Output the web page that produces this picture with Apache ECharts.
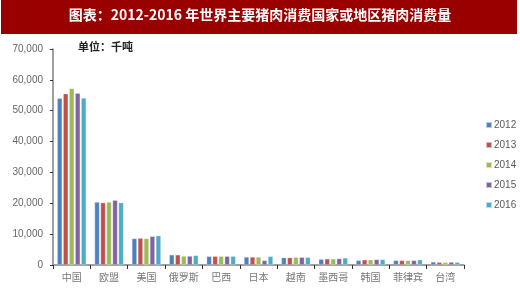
<!DOCTYPE html>
<html><head><meta charset="utf-8">
<script src="https://cdn.jsdelivr.net/npm/echarts@6/dist/echarts.min.js"></script>
<style>html,body{margin:0;padding:0;background:#fff}#c{width:520px;height:291px}</style>
</head><body><div id="c"></div>
<script>
var categories = ['中国','欧盟','美国','俄罗斯','巴西','日本','越南','墨西哥','韩国','菲律宾','台湾'];
var years = ['2012','2013','2014','2015','2016'];
var v2012 = [54000, 20400, 8600, 3300, 2800, 2600, 2400, 1900, 1500, 1500, 1000];
var v2013 = [55500, 20200, 8700, 3300, 2850, 2600, 2400, 2000, 1700, 1500, 900];
var v2014 = [57200, 20400, 8600, 2900, 2850, 2600, 2500, 2000, 1700, 1500, 850];
var v2015 = [55700, 21000, 9300, 2900, 2850, 1500, 2500, 2100, 1800, 1500, 950];
var v2016 = [54100, 20200, 9500, 3100, 2850, 2800, 2500, 2300, 1800, 1700, 900];
var yTicks = [0, 10000, 20000, 30000, 40000, 50000, 60000, 70000];
var colors = ['#4F81BD','#C0504D','#9BBB59','#8064A2','#4BACC6'];
var allValues = [v2012, v2013, v2014, v2015, v2016];

var chart = echarts.init(document.getElementById('c'));
var series = years.map(function(y, i){
  return {
    name: y, type: 'bar', data: allValues[i], barWidth: 5, barGap: '20%',
    itemStyle: {color: colors[i], borderColor: 'rgba(255,255,255,0.6)', borderWidth: 0.5}
  };
});
chart.setOption({
  animation: false,
  graphic: [
    {type: 'rect', shape: {x: 1, y: 0, width: 516, height: 34}, style: {fill: '#990000'}},
    {type: 'text', left: 'center', top: 8, style: {text: '图表：2012-2016 年世界主要猪肉消费国家或地区猪肉消费量', fill: '#fff', font: 'bold 14px "Noto Sans CJK SC", sans-serif'}},
    {type: 'text', left: 78, top: 41, style: {text: '单位：千吨', fill: '#222', font: 'bold 11px "Noto Sans CJK SC", sans-serif'}}
  ],
  grid: {left: 53, top: 49, right: 56, bottom: 26},
  legend: {
    orient: 'vertical', left: 480, top: 115, itemWidth: 6, itemHeight: 6, itemGap: 10,
    icon: 'rect', data: years,
    textStyle: {fontSize: 10, color: '#595959', fontFamily: 'Liberation Sans', padding: [0,0,0,-3]}
  },
  xAxis: {
    type: 'category', data: categories,
    axisLine: {lineStyle: {color: '#808080', width: 1.5}},
    axisTick: {show: true, length: 4, lineStyle: {color: '#333'}},
    axisLabel: {color: '#777', fontSize: 10, interval: 0, fontFamily: '"Noto Sans CJK SC"', margin: 7}
  },
  yAxis: {
    type: 'value', min: 0, max: 70000, interval: 10000,
    axisLine: {show: true, lineStyle: {color: '#808080', width: 1.5}},
    axisTick: {show: true, length: 3, lineStyle: {color: '#333'}},
    splitLine: {show: false},
    axisLabel: {color: '#666', fontSize: 10, fontFamily: 'Liberation Sans', margin: 10,
      formatter: function(v){ return yTicks.indexOf(v) >= 0 ? v.toLocaleString('en-US') : ''; }}
  },
  series: series
});
</script></body></html>
